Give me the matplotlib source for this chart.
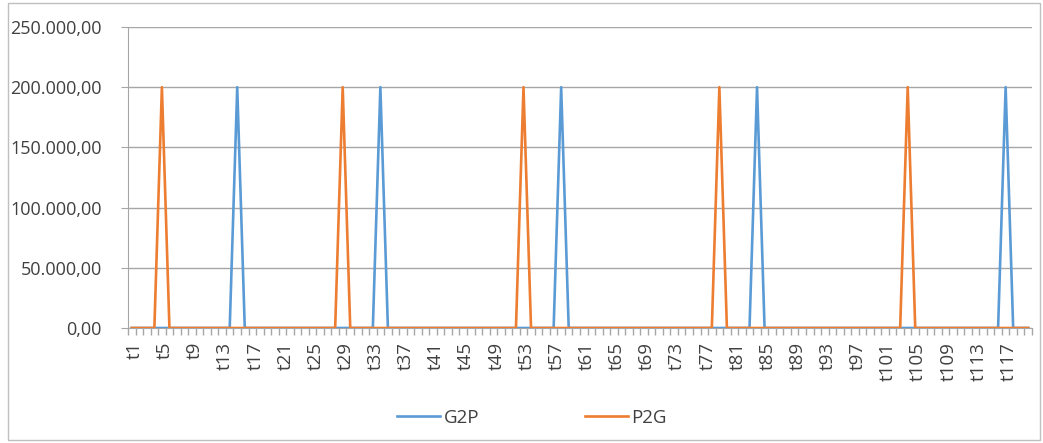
import matplotlib
matplotlib.use("Agg")
import matplotlib.pyplot as plt
import matplotlib.transforms as mtransforms
from matplotlib.patches import Rectangle

plt.rcParams['font.family'] = ['Open Sans', 'DejaVu Sans']

# categories t1..t120
categories = ["t%d" % i for i in range(1, 121)]

g2p = [0, 0, 0, 0, 0, 0, 0, 0, 0, 0, 0, 0, 0, 0, 200000, 0, 0, 0, 0, 0,
       0, 0, 0, 0, 0, 0, 0, 0, 0, 0, 0, 0, 0, 200000, 0, 0, 0, 0, 0, 0,
       0, 0, 0, 0, 0, 0, 0, 0, 0, 0, 0, 0, 0, 0, 0, 0, 0, 200000, 0, 0,
       0, 0, 0, 0, 0, 0, 0, 0, 0, 0, 0, 0, 0, 0, 0, 0, 0, 0, 0, 0,
       0, 0, 0, 200000, 0, 0, 0, 0, 0, 0, 0, 0, 0, 0, 0, 0, 0, 0, 0, 0,
       0, 0, 0, 0, 0, 0, 0, 0, 0, 0, 0, 0, 0, 0, 0, 0, 200000, 0, 0, 0]

p2g = [0, 0, 0, 0, 200000, 0, 0, 0, 0, 0, 0, 0, 0, 0, 0, 0, 0, 0, 0, 0,
       0, 0, 0, 0, 0, 0, 0, 0, 200000, 0, 0, 0, 0, 0, 0, 0, 0, 0, 0, 0,
       0, 0, 0, 0, 0, 0, 0, 0, 0, 0, 0, 0, 200000, 0, 0, 0, 0, 0, 0, 0,
       0, 0, 0, 0, 0, 0, 0, 0, 0, 0, 0, 0, 0, 0, 0, 0, 0, 0, 200000, 0,
       0, 0, 0, 0, 0, 0, 0, 0, 0, 0, 0, 0, 0, 0, 0, 0, 0, 0, 0, 0,
       0, 0, 0, 200000, 0, 0, 0, 0, 0, 0, 0, 0, 0, 0, 0, 0, 0, 0, 0, 0]

y_ticks = [0, 50000, 100000, 150000, 200000, 250000]

W, H = 1043, 443
fig = plt.figure(figsize=(W / 100, H / 100), dpi=100)
ax = fig.add_axes([128 / W, 1 - 328 / H, (1032 - 128) / W, (328 - 27) / H])

grey = '#a6a6a6'
txt = '#404040'

x = list(range(len(categories)))
ax.plot(x, g2p, color='#5b9bd5', lw=1.9, label='G2P', zorder=3)
ax.plot(x, p2g, color='#ed7d31', lw=1.9, label='P2G', zorder=4)

ax.set_xlim(-0.5, len(categories) - 0.5)
ax.set_ylim(0, 250000)

ax.set_yticks(y_ticks)
ax.set_yticklabels([("{:,.2f}".format(v)).replace(",", "X").replace(".", ",").replace("X", ".")
                    for v in y_ticks])
ax.yaxis.grid(True, color=grey, lw=1)
ax.set_axisbelow(True)

# labels every 4th category, ticks between every category
ax.set_xticks(x[::4])
ax.set_xticklabels(categories[::4], rotation=90)
ax.set_xticks([i - 0.5 for i in range(len(categories) + 1)], minor=True)
ax.tick_params(axis='x', which='major', length=0, pad=10, labelsize=13.5, colors=txt)
ax.tick_params(axis='x', which='minor', length=5, color=grey, width=1)
ax.tick_params(axis='y', length=5, color=grey, pad=14, labelsize=13, colors=txt)

# excel draws the rotated labels a little right of the category centre
shift = mtransforms.ScaledTranslation(3 / 100, 0, fig.dpi_scale_trans)
for lab in ax.get_xticklabels():
    lab.set_transform(lab.get_transform() + shift)

for s in ['top', 'right']:
    ax.spines[s].set_visible(False)
for s in ['left', 'bottom']:
    ax.spines[s].set_color(grey)

fig.legend(loc='center', bbox_to_anchor=(532 / W, 25 / H), ncol=2, frameon=False,
           fontsize=13.5, handlelength=2.3, handletextpad=0.2, columnspacing=5.6,
           labelcolor=txt)

fig.patches.append(Rectangle((8 / W, 3 / H), (1040 - 8) / W, (440 - 3) / H,
                             transform=fig.transFigure, fill=False, edgecolor='#bfbfbf', lw=1))

fig.savefig('out.png', dpi=100)
